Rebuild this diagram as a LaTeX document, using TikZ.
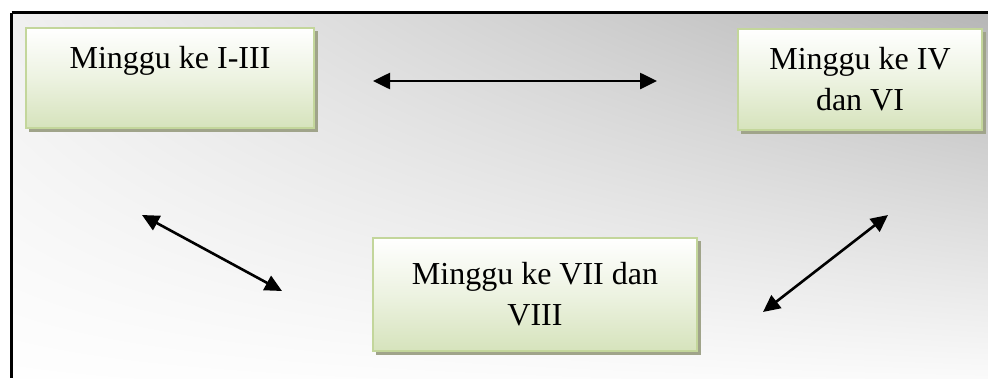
\documentclass[tikz,border=0pt]{standalone}
\usepackage{fontspec}
\setmainfont{Liberation Serif}
\usetikzlibrary{arrows.meta,shadings}
\definecolor{bgTL}{RGB}{240,240,240}
\definecolor{bgTR}{RGB}{182,182,182}
\definecolor{bgBL}{RGB}{254,254,254}
\definecolor{bgBR}{RGB}{250,250,250}
\definecolor{boxEdge}{RGB}{195,214,155}
\definecolor{boxLow}{RGB}{214,227,188}
\definecolor{boxShadow}{RGB}{160,164,138}
\tikzset{
  weekbox/.style={rectangle, draw=boxEdge, line width=2.6pt,
    top color=white, bottom color=boxLow, middle color=white!55!boxLow,
    align=center, inner sep=0pt,
    font=\fontsize{32}{41}\selectfont},
  boxshadow/.style={fill=boxShadow},
  link/.style={line width=2.6pt, {Triangle[length=17pt,width=16pt]}-{Triangle[length=17pt,width=16pt]}},
  frame/.style={line width=2.4pt, black}
}
\begin{document}
\begin{tikzpicture}[x=1pt,y=-1pt]
\useasboundingbox (0,0) rectangle (988,378);
% background panel with diagonal grey gradient
\shade[upper left=bgTL, upper right=bgTR, lower left=bgBL, lower right=bgBR]
  (12,12) rectangle (988,378);
% frame lines (top and left only)
\draw[frame] (11.5,12.5) -- (988,12.5);
\draw[frame] (11.5,12.5) -- (11.5,378);

% drop shadows of the boxes
\fill[boxshadow] (29,31) rectangle (318,132);
\fill[boxshadow] (741,32) rectangle (986,134);
\fill[boxshadow] (376,241) rectangle (701,355);

% boxes
\node[weekbox, minimum width=288pt, minimum height=100pt] (w1) at (170,78)
  {Minggu ke I-III\\\mbox{}};
\node[weekbox, minimum width=244pt, minimum height=101pt] (w2) at (860,79.5)
  {Minggu ke IV\\dan VI};
\node[weekbox, minimum width=324pt, minimum height=113pt] (w3) at (535,294.5)
  {Minggu ke VII dan\\VIII};

% arrow end points
\coordinate (h1) at (373,81);
\coordinate (h2) at (657,81);
\coordinate (l1) at (142,215);
\coordinate (l2) at (282,291);
\coordinate (r1) at (888,215);
\coordinate (r2) at (763,312);

\draw[link] (h1) -- (h2);
\draw[link] (l1) -- (l2);
\draw[link] (r1) -- (r2);
\end{tikzpicture}
\end{document}
